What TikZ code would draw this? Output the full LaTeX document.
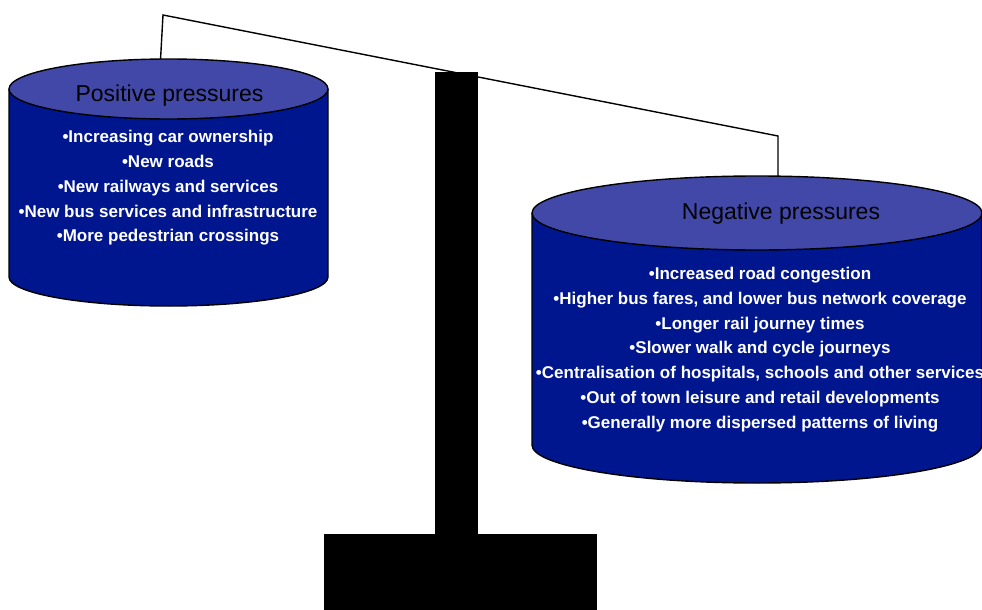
\documentclass[tikz,border=0pt]{standalone}
\usepackage{fontspec}
\setmainfont{Liberation Sans}
\definecolor{bodyblue}{RGB}{0,22,143}
\definecolor{topblue}{RGB}{66,72,168}
\tikzset{
  outline/.style={draw=black,line width=1.4pt},
  string/.style={draw=black,line width=1.4pt},
  title/.style={font=\fontsize{23}{26}\selectfont,text=black,inner sep=0pt},
  items/.style={font=\fontsize{17}{24.8}\selectfont\bfseries,text=white,align=center,inner sep=0pt},
}
\begin{document}
\begin{tikzpicture}[x=1pt,y=-1pt]
\useasboundingbox (0,0) rectangle (982,610);
% hanging string and beam
\coordinate (lt) at (160.5,60);
\coordinate (lk) at (163,15);
\coordinate (rk) at (778,136);
\coordinate (rt) at (778,176);
\draw[string,line join=miter] (lt) -- (lk) -- (rk) -- (rt);
% left pan
\fill[bodyblue] (9,89) -- (9,277) arc[start angle=180,end angle=0,x radius=159.5,y radius=29] -- (328,89) -- cycle;
\draw[outline] (9,89) -- (9,277) arc[start angle=180,end angle=0,x radius=159.5,y radius=29] -- (328,89);
\draw[outline,fill=topblue] (168.5,89) ellipse[x radius=159.5,y radius=30];
% right pan
\fill[bodyblue] (532,213) -- (532,445) arc[start angle=180,end angle=0,x radius=225,y radius=38] -- (982,213) -- cycle;
\draw[outline] (532,213) -- (532,445) arc[start angle=180,end angle=0,x radius=225,y radius=38] -- (982,213);
\draw[outline,fill=topblue] (757,213) ellipse[x radius=225,y radius=37];
% stand
\fill[black] (435,72) rectangle (478,535);
\fill[black] (324,534) rectangle (597,610);
% texts
\node[title] (pt) at (169.5,95.7) {Positive pressures};
\node[items] (pl) at (168,188) {•Increasing car ownership\\•New roads\\•New railways and services\\•New bus services and infrastructure\\•More pedestrian crossings};
\node[title] (nt) at (781,214) {Negative pressures};
\node[items] (nl) at (760,349.5) {•Increased road congestion\\•Higher bus fares, and lower bus network coverage\\•Longer rail journey times\\•Slower walk and cycle journeys\\•Centralisation of hospitals, schools and other services\\•Out of town leisure and retail developments\\•Generally more dispersed patterns of living};
\end{tikzpicture}
\end{document}
